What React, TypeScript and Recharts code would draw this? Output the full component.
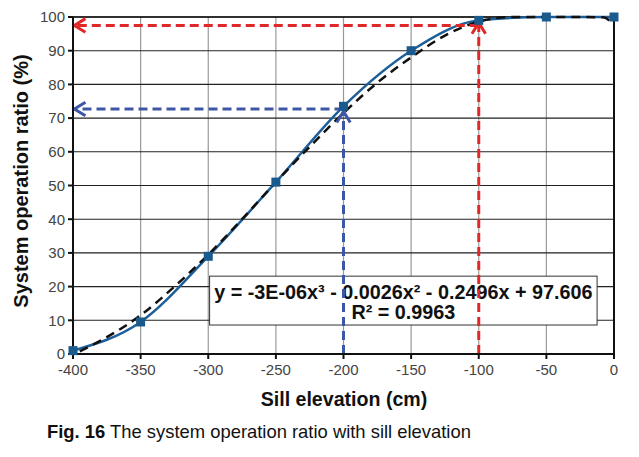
import React from "react";
import {
  LineChart,
  Line,
  XAxis,
  YAxis,
  CartesianGrid,
  ReferenceLine,
  ReferenceArea,
  Label,
} from "recharts";

// measured series
const elevations = [-400, -350, -300, -250, -200, -150, -100, -50, 0];
const ratios = [1, 9.5, 29, 51, 73.5, 90, 99, 100, 100];

// polynomial trend line as drawn
const trendElevations = [-395, -375, -350, -325, -300, -275, -250, -225, -200, -175, -150, -125, -100, -75, -50, -25, -8, 0];
const trendRatios = [0.8, 5, 11.5, 20, 29.5, 40, 51, 61.5, 71.5, 80.5, 88, 94.5, 98.6, 100, 100, 100, 99.9, 97.6];

const xTicks = [-400, -350, -300, -250, -200, -150, -100, -50, 0];
const yTicks = [0, 10, 20, 30, 40, 50, 60, 70, 80, 90, 100];

// guide arrows (x, y in chart units)
const redGuideX = -100;
const redGuideY = 97.5;
const blueGuideX = -200;
const blueGuideY = 72.7;

// equation box extent (chart units)
const eqBoxX = [-299, -12.5];
const eqBoxY = [8.6, 23.1];
const eqLine1 = "y = -3E-06x³ - 0.0026x² - 0.2496x + 97.606";
const eqLine2 = "R² = 0.9963";

const measured = elevations.map((x, i) => ({ x, y: ratios[i] }));
const trend = trendElevations.map((x, i) => ({ x, y: trendRatios[i] }));

const FONT = "'Liberation Sans', Arial, sans-serif";

const SquareDot = (props: any) => {
  const { cx, cy, index } = props;
  return <rect key={"d" + index} x={cx - 4.5} y={cy - 4.5} width={9} height={9} fill="#1b5a8c" />;
};

const makeArrow = (color: string) => (props: any) => {
  const { x1, y1, x2, y2 } = props;
  const a = Math.atan2(y2 - y1, x2 - x1);
  const L = 13;
  const s = 0.55;
  const pA = `${x2 - L * Math.cos(a - s)},${y2 - L * Math.sin(a - s)}`;
  const pB = `${x2 - L * Math.cos(a + s)},${y2 - L * Math.sin(a + s)}`;
  return (
    <g>
      <line x1={x1} y1={y1} x2={x2} y2={y2} stroke={color} strokeWidth={3} strokeDasharray="9 5" />
      <polyline points={`${pA} ${x2},${y2} ${pB}`} fill="none" stroke={color} strokeWidth={3} />
    </g>
  );
};

const EquationBox = (props: any) => {
  const { x, y, width, height } = props;
  const cx = x + width / 2;
  return (
    <g>
      <rect x={x} y={y} width={width} height={height} fill="#fff" stroke="#333" strokeWidth={1} />
      <text x={cx} y={y + 23} textAnchor="middle" fontFamily={FONT} fontWeight="bold" fontSize={19.8} fill="#111">
        {eqLine1}
      </text>
      <text x={cx} y={y + 43} textAnchor="middle" fontFamily={FONT} fontWeight="bold" fontSize={19.8} fill="#111">
        {eqLine2}
      </text>
    </g>
  );
};

const YTitle = () => (
  <text
    x={21}
    y={181}
    transform="rotate(-90 21 181)"
    textAnchor="middle"
    dominantBaseline="central"
    fontFamily={FONT}
    fontWeight="bold"
    fontSize={20}
    fill="#111"
  >
    System operation ratio (%)
  </text>
);

const XTitle = () => (
  <text x={344} y={399} textAnchor="middle" dominantBaseline="central" fontFamily={FONT} fontWeight="bold" fontSize={19.6} fill="#111">
    Sill elevation (cm)
  </text>
);

export default function App() {
  return (
    <div style={{ position: "absolute", left: 0, top: 0, width: 639, height: 457, background: "#fff" }}>
      <LineChart width={639} height={457} margin={{ top: 17, right: 25, left: 28, bottom: 73 }}>
        <CartesianGrid horizontal={false} stroke="#999" strokeWidth={1.2} />
        <CartesianGrid vertical={false} stroke="#222" strokeWidth={1.1} />
        <XAxis
          type="number"
          dataKey="x"
          domain={[-400, 0]}
          ticks={xTicks}
          height={30}
          stroke="#111"
          strokeWidth={2}
          tickSize={5}
          tickMargin={5}
          tick={{ fontSize: 15, fill: "#444", fontFamily: FONT }}
        >
          <Label content={<XTitle />} />
        </XAxis>
        <YAxis
          type="number"
          domain={[0, 100]}
          ticks={yTicks}
          width={45}
          stroke="#111"
          strokeWidth={2}
          tickSize={5}
          tickMargin={3}
          tick={{ fontSize: 15, fill: "#444", fontFamily: FONT }}
        >
          <Label content={<YTitle />} />
        </YAxis>
        <ReferenceLine y={100} stroke="#111" strokeWidth={1.5} />
        <ReferenceLine x={0} stroke="#111" strokeWidth={2} />
        <ReferenceArea x1={eqBoxX[0]} x2={eqBoxX[1]} y1={eqBoxY[0]} y2={eqBoxY[1]} shape={EquationBox} />
        <Line
          data={measured}
          dataKey="y"
          type="monotone"
          stroke="#1f5f99"
          strokeWidth={2.5}
          dot={SquareDot}
          activeDot={false}
          isAnimationActive={false}
        />
        <Line
          data={trend}
          dataKey="y"
          type="monotone"
          stroke="#111"
          strokeWidth={2.5}
          strokeDasharray="9 6"
          dot={false}
          activeDot={false}
          isAnimationActive={false}
        />
        <ReferenceLine
          segment={[{ x: redGuideX, y: 0 }, { x: redGuideX, y: 98.3 }]}
          shape={makeArrow("#e02828")}
        />
        <ReferenceLine
          segment={[{ x: redGuideX, y: redGuideY }, { x: -399, y: redGuideY }]}
          shape={makeArrow("#e02828")}
        />
        <ReferenceLine
          segment={[{ x: blueGuideX, y: 0 }, { x: blueGuideX, y: 72 }]}
          shape={makeArrow("#3d56a6")}
        />
        <ReferenceLine
          segment={[{ x: blueGuideX, y: blueGuideY }, { x: -399, y: blueGuideY }]}
          shape={makeArrow("#3d56a6")}
        />
      </LineChart>
      <div
        style={{
          position: "absolute",
          left: 47,
          top: 421,
          fontFamily: FONT,
          fontSize: 18.4,
          color: "#111",
          whiteSpace: "nowrap",
        }}
      >
        <b>Fig. 16</b> The system operation ratio with sill elevation
      </div>
    </div>
  );
}
